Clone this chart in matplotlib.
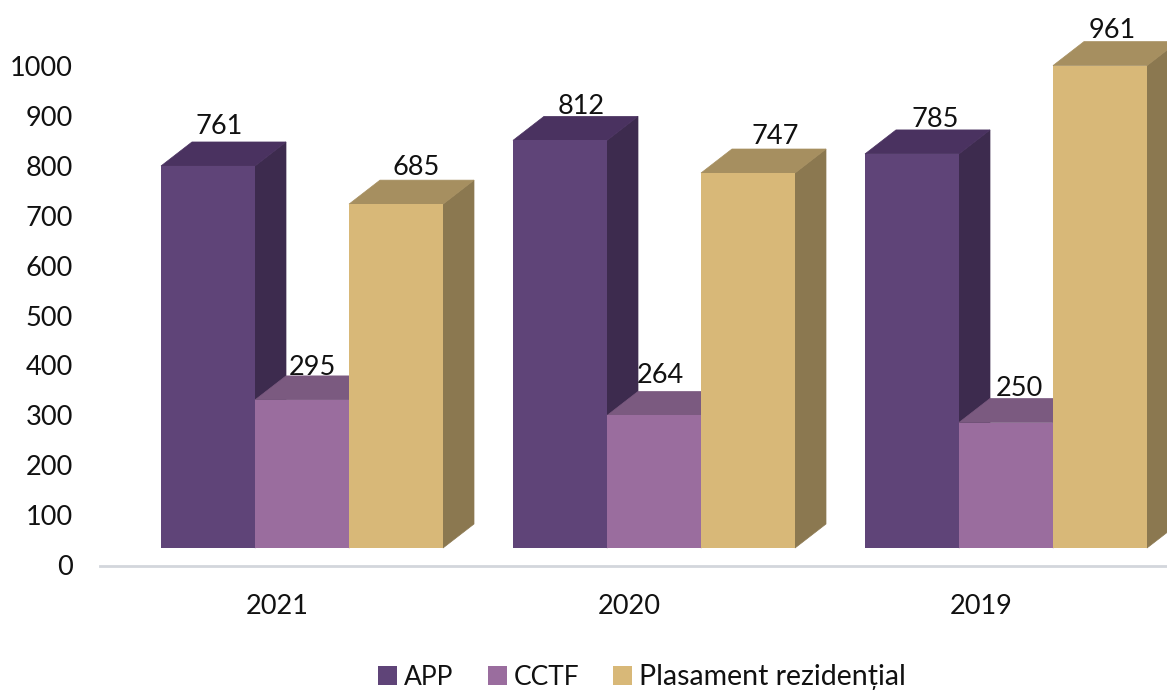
import matplotlib
matplotlib.use("Agg")
import matplotlib.pyplot as plt
from matplotlib.patches import Patch

years = ["2021", "2020", "2019"]
app = [761, 812, 785]
cctf = [295, 264, 250]
plasament = [685, 747, 961]
y_ticks = [0, 100, 200, 300, 400, 500, 600, 700, 800, 900, 1000]

series_names = ["APP", "CCTF", "Plasament rezidențial"]
# front, top, side
colors = [("#5F4478", "#4A3260", "#3D2B4E"),
          ("#9A6D9E", "#7B5A80", "#5E4563"),
          ("#D8B878", "#A68F60", "#8B7850")]

# label nudges in px, (dx, dy) from the centre of the bar top
label_nudge = [[(11, 39.5), (21, 33.5), (23, 34.5)],
               [(10, 32.5), (6, 39.5), (13, 34.5)],
               [(20, 36.5), (27, 36.5), (12, 35.5)]]

W, H = 1167, 690
FS = 19.5
plt.rcParams["font.family"] = ["Lato", "DejaVu Sans"]

fig = plt.figure(figsize=(W / 100, H / 100), dpi=100)
rect = [100 / W, (H - 566) / H, (W - 100) / W, 566 / H]

# the value axis sits lower than the front of the 3d bars, so it has its own scale
ax_y = fig.add_axes(rect)
ax_y.set_ylim(-1 / 0.499, 565 / 0.499)
ax_y.set_xlim(0, 1)
ax_y.set_xticks([])
ax_y.set_yticks(y_ticks)
ax_y.tick_params(axis="y", length=0, pad=19.5, labelsize=FS, labelcolor="#111111")
for s in ["top", "right", "left"]:
    ax_y.spines[s].set_visible(False)
ax_y.spines["bottom"].set_color("#D3D6DC")
ax_y.spines["bottom"].set_linewidth(2)

ax = fig.add_axes(rect, sharex=None)
ax.patch.set_alpha(0)
ax.set_xlim((100 - 302) / 352, (W - 302) / 352)
ax.set_ylim(-18 / 0.502, 548 / 0.502)
ax.set_yticks([])
# year labels sit left of the front faces, under the middle of the floor
ax.set_xticks([i - 25 / 352 for i in range(len(years))])
ax.set_xticklabels(years)
ax.tick_params(axis="x", length=0, pad=20.5, labelsize=FS, labelcolor="#111111")
for s in ax.spines.values():
    s.set_visible(False)

bar_w = 94 / 352
depth_x = 31 / 352
depth_y = 24 / 0.502

z = 2
for k, vals in enumerate([app, cctf, plasament]):
    front, top, side = colors[k]
    for i, v in enumerate(vals):
        left = i + (k - 1.5) * bar_w
        right = left + bar_w
        ax.fill([right, right + depth_x, right + depth_x, right],
                [0, depth_y, v + depth_y, v], color=side, lw=0.5, zorder=z)
        ax.fill([left, left + depth_x, right + depth_x, right],
                [v, v + depth_y, v + depth_y, v], color=top, lw=0.5, zorder=z)
        ax.bar(i + (k - 1) * bar_w, v, width=bar_w, color=front, lw=0, zorder=z + 1)
        dx, dy = label_nudge[k][i]
        ax.annotate(str(v), (i + (k - 1) * bar_w, v), xytext=(dx * 0.72, dy * 0.72),
                    textcoords="offset points", ha="center", va="center",
                    fontsize=FS, color="#111111", zorder=20)
    z += 2

handles = [Patch(color=c[0], lw=0) for c in colors]
leg = fig.legend(handles, series_names, loc="center", bbox_to_anchor=(642 / W, (H - 677) / H),
                 ncol=3, frameon=False, fontsize=19, handlelength=0.72, handleheight=0.72,
                 handletextpad=0.26, columnspacing=1.3, borderpad=0, labelcolor="#111111")
# last entry runs wider in the reference
leg.get_texts()[2].set_fontsize(20.5)

fig.savefig("out.png", dpi=100)
